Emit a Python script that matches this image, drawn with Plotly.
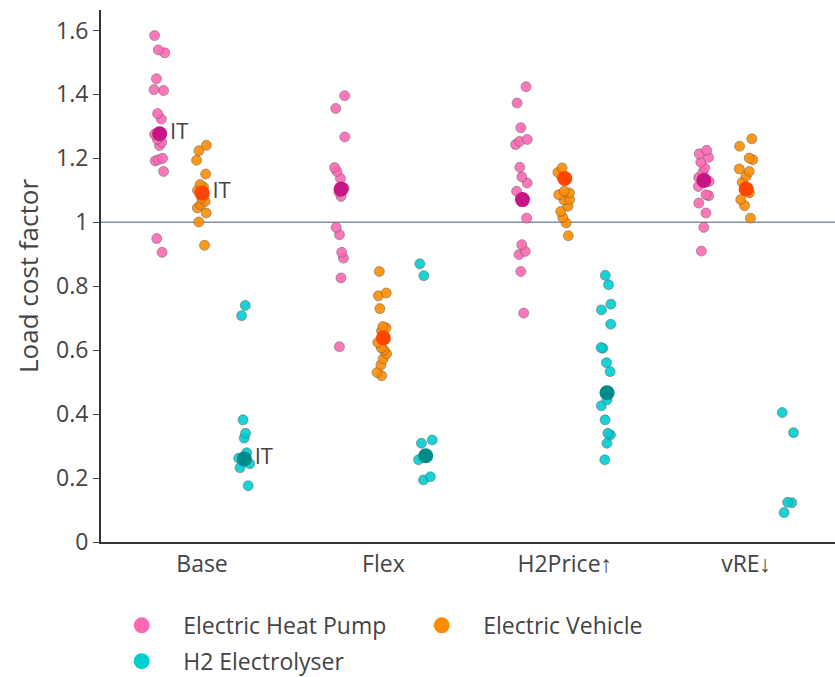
import plotly.graph_objects as go

CATEGORIES = ["Base", "Flex", "H2Price↑", "vRE↓"]

# Electric Heat Pump (other countries)
HP_BASE = [1.584, 1.539, 1.530, 1.449, 1.415, 1.412, 1.340, 1.323, 1.275, 1.26, 1.24, 1.25, 1.200, 1.196, 1.192, 1.159, 0.949, 0.906]
HP_FLEX = [1.396, 1.356, 1.267, 1.171, 1.159, 1.137, 1.107, 1.095, 1.081, 0.984, 0.961, 0.906, 0.888, 0.826, 0.611]
HP_H2P = [1.424, 1.373, 1.296, 1.259, 1.253, 1.243, 1.172, 1.142, 1.123, 1.097, 1.013, 0.930, 0.909, 0.899, 0.846, 0.716]
HP_VRE = [1.225, 1.214, 1.203, 1.188, 1.170, 1.156, 1.140, 1.128, 1.112, 1.086, 1.083, 1.060, 1.029, 0.984, 0.910]

# Electric Vehicle
EV_BASE = [1.241, 1.224, 1.194, 1.151, 1.118, 1.110, 1.100, 1.095, 1.085, 1.075, 1.065, 1.055, 1.045, 1.029, 1.001, 0.928]
EV_FLEX = [0.846, 0.779, 0.770, 0.730, 0.674, 0.670, 0.660, 0.650, 0.624, 0.607, 0.600, 0.589, 0.573, 0.554, 0.530, 0.520]
EV_H2P = [1.170, 1.156, 1.142, 1.097, 1.092, 1.086, 1.071, 1.069, 1.050, 1.034, 1.015, 0.998, 0.958]
EV_VRE = [1.261, 1.238, 1.201, 1.196, 1.167, 1.159, 1.144, 1.125, 1.092, 1.071, 1.052, 1.013]

# H2 Electrolyser
H2_BASE = [0.740, 0.708, 0.382, 0.340, 0.325, 0.279, 0.265, 0.262, 0.245, 0.232, 0.176]
H2_FLEX = [0.870, 0.833, 0.319, 0.309, 0.257, 0.204, 0.194]
H2_H2P = [0.834, 0.805, 0.744, 0.726, 0.681, 0.608, 0.606, 0.561, 0.533, 0.467, 0.445, 0.426, 0.382, 0.340, 0.335, 0.309, 0.257]
H2_VRE = [0.405, 0.342, 0.124, 0.123, 0.092]

# Highlighted country (IT)
IT_HP = [1.277, 1.104, 1.071, 1.131]
IT_EV = [1.092, 0.638, 1.137, 1.104]
IT_H2 = [0.260, 0.270, 0.467, None]
IT_TEXT = ["IT", "", "", ""]

SERIES = [
    ("Electric Heat Pump", "hp", [HP_BASE, HP_FLEX, HP_H2P, HP_VRE], IT_HP, "hotpink", "mediumvioletred", "legend"),
    ("Electric Vehicle", "ev", [EV_BASE, EV_FLEX, EV_H2P, EV_VRE], IT_EV, "darkorange", "orangered", "legend"),
    ("H2 Electrolyser", "h2", [H2_BASE, H2_FLEX, H2_H2P, H2_VRE], IT_H2, "darkturquoise", "darkcyan", "legend2"),
]

FONT = "Open Sans"
fig = go.Figure()

for name, grp, groups, it_vals, col, dark, leg in SERIES:
    xs, ys = [], []
    for cat, vals in zip(CATEGORIES, groups):
        xs += [cat] * len(vals)
        ys += vals
    fig.add_trace(go.Box(
        x=xs, y=ys, name=name, offsetgroup=grp, showlegend=False,
        boxpoints="all", jitter=0.5, pointpos=0,
        fillcolor="rgba(255,255,255,0)", line=dict(color="rgba(255,255,255,0)"),
        hoveron="points",
        marker=dict(color=col, size=10, opacity=0.9,
                    line=dict(color="rgba(90,90,90,0.55)", width=1)),
    ))

for name, grp, groups, it_vals, col, dark, leg in SERIES:
    fig.add_trace(go.Scatter(
        x=CATEGORIES, y=it_vals, mode="markers+text", offsetgroup=grp,
        text=IT_TEXT, textposition="middle right",
        textfont=dict(family=FONT, size=22, color="#444"),
        marker=dict(color=dark, size=15), showlegend=False,
    ))

for name, grp, groups, it_vals, col, dark, leg in SERIES:
    fig.add_trace(go.Scatter(
        x=[None], y=[None], mode="markers", offsetgroup=grp, name=name,
        marker=dict(color=col, size=16), legend=leg,
    ))

fig.add_shape(type="line", xref="paper", yref="y", x0=0, x1=1, y0=1, y1=1,
              line=dict(color="#8090a8", width=1.5), layer="below")

fig.update_layout(
    width=835, height=677,
    margin=dict(l=101, r=0, t=10, b=135, autoexpand=False),
    paper_bgcolor="white", plot_bgcolor="white",
    font=dict(family=FONT, size=23, color="#444"),
    boxmode="group", boxgap=0.3, boxgroupgap=0.3,
    scattermode="group", scattergap=0.3,
    xaxis=dict(type="category", categoryorder="array", categoryarray=CATEGORIES,
               range=[-0.557, 3.49], showline=True, linecolor="#333", linewidth=2,
               ticks="", showgrid=False, zeroline=False,
               tickfont=dict(size=23)),
    yaxis=dict(range=[0, 1.664], dtick=0.2, showline=True, linecolor="#333", linewidth=2,
               ticks="outside", ticklen=6, tickcolor="#444", showgrid=False, zeroline=False,
               tickfont=dict(size=23),
               title=dict(text="Load cost factor", font=dict(size=26), standoff=10)),
    legend=dict(orientation="h", xref="container", yref="container",
                x=0.12, xanchor="left", y=0.108, yanchor="top",
                font=dict(size=23), entrywidth=212, itemwidth=73),
    legend2=dict(orientation="h", xref="container", yref="container",
                 x=0.12, xanchor="left", y=0.055, yanchor="top",
                 font=dict(size=23), itemwidth=73),
)

fig.write_html("out.html")
